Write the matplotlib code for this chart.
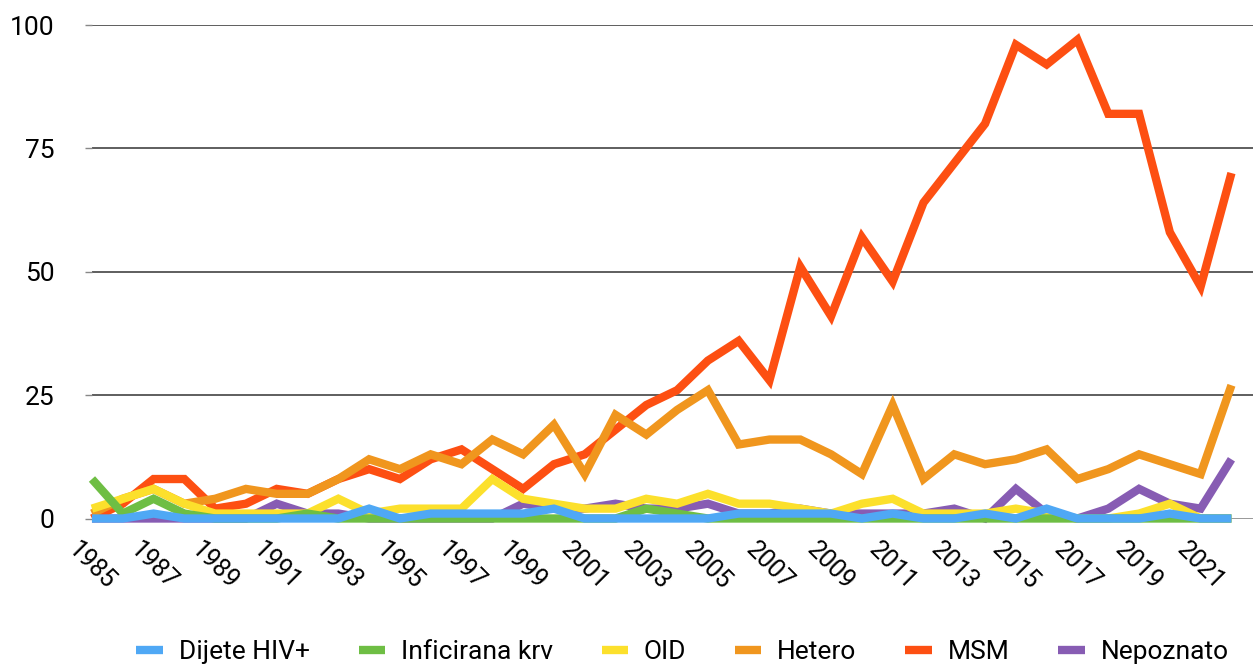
import matplotlib
matplotlib.use("Agg")
import matplotlib.pyplot as plt

plt.rcParams["font.family"] = ["Roboto", "DejaVu Sans"]

years = list(range(1985, 2023))

dijete = [0, 0, 1, 0, 0, 0, 0, 0, 0, 2, 0, 1, 1, 1, 1, 2, 0, 0, 0, 0,
          0, 1, 1, 1, 1, 0, 1, 0, 0, 1, 0, 2, 0, 0, 0, 1, 0, 0]
krv = [8, 1, 4, 1, 0, 0, 0, 1, 0, 0, 0, 0, 0, 0, 0, 0, 0, 0, 2, 1,
       0, 0, 0, 0, 0, 0, 0, 0, 0, 0, 0, 0, 0, 0, 0, 0, 0, 0]
oid = [2, 4, 6, 3, 1, 1, 1, 1, 4, 1, 2, 2, 2, 8, 4, 3, 2, 2, 4, 3,
       5, 3, 3, 2, 1, 3, 4, 1, 1, 1, 2, 1, 0, 0, 1, 3, 0, 0]
hetero = [1, 4, 6, 3, 4, 6, 5, 5, 8, 12, 10, 13, 11, 16, 13, 19, 9, 21, 17, 22,
          26, 15, 16, 16, 13, 9, 23, 8, 13, 11, 12, 14, 8, 10, 13, 11, 9, 27]
msm = [0, 3, 8, 8, 2, 3, 6, 5, 8, 10, 8, 12, 14, 10, 6, 11, 13, 18, 23, 26,
       32, 36, 28, 51, 41, 57, 48, 64, 72, 80, 96, 92, 97, 82, 82, 58, 47, 70]
nepoznato = [0, 0, 0, 0, 0, 0, 3, 1, 1, 0, 0, 0, 0, 0, 3, 2, 2, 3, 2, 2,
             3, 1, 1, 2, 1, 1, 1, 1, 2, 0, 6, 1, 0, 2, 6, 3, 2, 12]

labels = ["Dijete HIV+", "Inficirana krv", "OID", "Hetero", "MSM", "Nepoznato"]
series = [dijete, krv, oid, hetero, msm, nepoznato]
colors = ["#4FA8F5", "#6EBE44", "#FCE02C", "#F0961E", "#FD4F12", "#875CB3"]

fig = plt.figure(figsize=(12.53, 6.65), dpi=100)
ax = fig.add_axes([0.0734, 0.2203, 0.9266, 0.7421])

handles = []
n = len(series)
for i, (lab, vals, c) in enumerate(zip(labels, series, colors)):
    # first series sits on top, like the original
    h, = ax.plot(years, vals, color=c, lw=6, label=lab, zorder=10 + n - i,
                 clip_on=False, solid_joinstyle="miter", solid_capstyle="butt")
    handles.append(h)

ax.set_xlim(1985, 2022.7)
ax.set_ylim(0, 100)
ax.set_yticks([0, 25, 50, 75, 100])
ax.set_xticks(years[::2])
ax.set_xticklabels([str(y) for y in years[::2]], rotation=-45, ha="center",
                   va="top", fontsize=18)
ax.tick_params(axis="x", length=0, pad=14)
ax.tick_params(axis="y", length=5, width=1, color="#888888", pad=22, labelsize=19)

for v in [25, 50, 75, 100]:
    ax.axhline(v, color="#333333", lw=1.1, zorder=1)
ax.axhline(0, color="#888888", lw=1.2, zorder=1)

for s in ax.spines.values():
    s.set_visible(False)

fig.legend(handles=handles, labels=labels, loc="center", ncol=6,
           bbox_to_anchor=(0.5447, 0.019), frameon=False, fontsize=19,
           handlelength=1.0, handletextpad=0.6, columnspacing=1.85)

fig.savefig("out.png", dpi=100)
